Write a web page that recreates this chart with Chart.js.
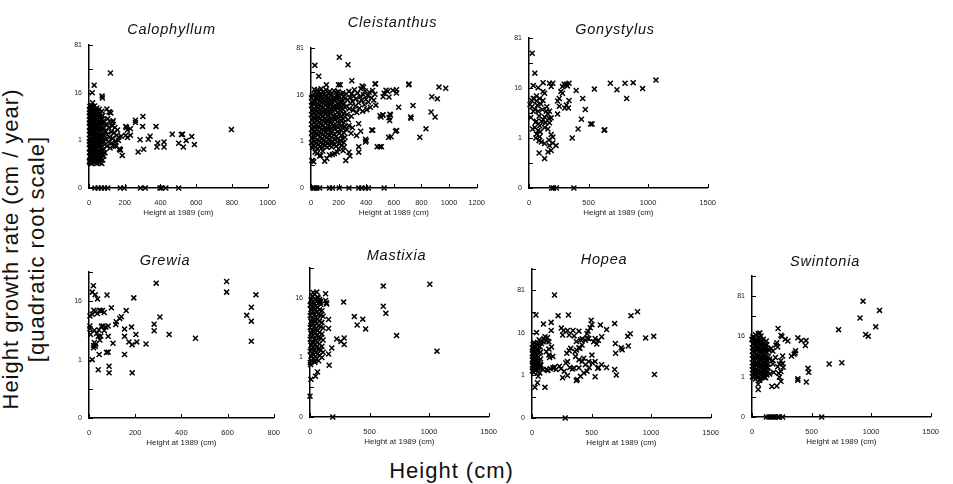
<!DOCTYPE html>
<html><head><meta charset="utf-8">
<script src="https://cdn.jsdelivr.net/npm/chart.js@4.4.1/dist/chart.umd.min.js"></script>
<style>
html,body{margin:0;padding:0;background:#fff;}
body{width:953px;height:484px;position:relative;overflow:hidden;font-family:"Liberation Sans",Arial,sans-serif;}
canvas{position:absolute;}
.ttl{position:absolute;font-style:italic;font-size:14.5px;line-height:14.5px;letter-spacing:0.8px;white-space:nowrap;transform:translateX(-50%);color:#111;}
#ylab{position:absolute;left:-176px;top:223px;width:400px;height:52px;font-size:22px;line-height:26px;letter-spacing:1px;text-align:center;transform:rotate(-90deg);white-space:nowrap;color:#111;}
#xlab{position:absolute;left:451.5px;top:460.3px;font-size:22px;line-height:22px;letter-spacing:1px;transform:translateX(-50%);white-space:nowrap;color:#111;}
</style></head><body>
<div id="ylab">Height growth rate (cm / year)<br>[quadratic root scale]</div>
<div id="xlab">Height (cm)</div>
<script>
// [height at 1989 (cm), height growth rate (cm/year)]
const calophyllum = [
[2,0.1],[2,0.3],[2,0.7],[2,1.2],[2,2.1],[2,3.5],[2,5.2],[2,7.4],
[5,0.08],[5,0.2],[5,0.5],[5,0.9],[5,1.6],[5,2.6],[5,4.1],[5,6.3],[5,8.6],
[8,0.12],[8,0.35],[8,0.6],[8,1.1],[8,1.9],[8,3.0],[8,4.6],[8,7.0],
[12,0.1],[12,0.25],[12,0.45],[12,0.8],[12,1.4],[12,2.3],[12,3.6],[12,5.5],[12,8.0],
[15,0.07],[15,0.18],[15,0.4],[15,0.75],[15,1.3],[15,2.0],[15,3.2],[15,5.0],[15,7.6],[15,9.0],
[19,0.15],[19,0.3],[19,0.55],[19,1.0],[19,1.7],[19,2.8],[19,4.4],[19,6.5],
[23,0.09],[23,0.22],[23,0.5],[23,0.85],[23,1.5],[23,2.4],[23,3.9],[23,5.8],[23,8.2],
[27,0.12],[27,0.3],[27,0.65],[27,1.15],[27,2.0],[27,3.3],[27,5.3],[27,7.2],
[31,0.08],[31,0.2],[31,0.42],[31,0.8],[31,1.35],[31,2.2],[31,3.6],[31,6.0],[31,8.8],
[35,0.14],[35,0.35],[35,0.7],[35,1.2],[35,1.9],[35,3.0],[35,4.8],[35,6.8],
[40,0.1],[40,0.25],[40,0.5],[40,0.95],[40,1.6],[40,2.6],[40,4.2],[40,7.0],
[44,0.07],[44,0.18],[44,0.45],[44,0.75],[44,1.3],[44,2.3],[44,3.4],[44,5.6],[44,8.0],
[48,0.12],[48,0.3],[48,0.6],[48,1.05],[48,1.8],[48,2.9],[48,4.5],[48,6.2],
[53,0.09],[53,0.2],[53,0.4],[53,0.85],[53,1.4],[53,2.5],[53,3.8],[53,5.5],
[57,0.14],[57,0.33],[57,0.65],[57,1.1],[57,1.9],[57,3.1],[57,4.9],[57,7.5],
[62,0.08],[62,0.22],[62,0.5],[62,0.9],[62,1.5],[62,2.4],[62,3.7],[62,6.0],
[67,0.15],[67,0.35],[67,0.7],[67,1.25],[67,2.1],[67,3.3],[67,5.1],
[72,0.07],[72,0.25],[72,0.55],[72,1.0],[72,1.6],[72,2.7],[72,4.3],[72,6.8],
[77,0.12],[77,0.4],[77,0.8],[77,1.35],[77,2.2],[77,3.5],[77,5.4],
[83,0.2],[83,0.45],[83,0.9],[83,1.5],[83,2.5],[83,4.0],
[90,0.3],[92,1.1],[95,2.0],[97,3.2],[100,0.6],[103,1.6],[105,4.5],[108,0.9],[110,2.6],[112,6.5],[115,1.3],[118,0.5],[120,3.6],[122,6.2],[125,1.9],[128,0.8],[130,2.9],[133,1.2],[135,4.0],[138,0.6],[140,1.8],[145,2.6],[148,0.9],[150,0.6],[155,1.5],[160,2.2],[165,1.0],[170,0.45],[175,0.4],[180,1.4],[186,0.22],
[120,34],[29,21.8],[18,16],[73,13.9],[75,12.8],[20,10.3],[100,7.6],[115,6.5],[133,3.7],[260,4.1],[302,5.1],[300,2.8],[375,2.8],[209,2.6],[215,2.2],[232,2.4],[466,1.63],[524,1.63],[575,1.36],[544,1.0],[502,0.78],[528,0.55],[590,0.69],[797,2.27],[342,1.4],[332,1.1],[286,1.05],[306,0.44],[275,0.33],[385,0.8],[420,0.88],[420,0.55],[380,0.55],[175,0.43],[150,0.6],[133,1.17],[167,1.3],[206,1.5],[215,1.26],[232,1.5],[206,2.8],[260,3.6],[517,1.6],
[33,0],[51,0],[69,0],[87,0],[105,0],[175,0],[197,0],[288,0],[315,0],[397,0],[406,0],[430,0],[502,0]
];
const cleistanthus = [
[3,0.9],[3,1.9],[3,3.5],[3,6.2],[3,9.8],[3,14],
[10,0.55],[10,1.3],[10,2.6],[10,4.6],[10,7.6],[10,11.2],[10,15.5],
[17,0.7],[17,1.6],[17,3.0],[17,5.2],[17,8.3],[17,12.6],
[24,1.0],[24,2.1],[24,3.9],[24,6.6],[24,10.4],[24,16.2],[24,20],
[31,0.6],[31,1.4],[31,2.8],[31,4.9],[31,7.9],[31,12],[31,17.5],
[38,0.85],[38,1.8],[38,3.3],[38,5.6],[38,9.2],[38,13.6],
[45,0.5],[45,1.15],[45,2.4],[45,4.3],[45,7.1],[45,10.9],[45,15.8],[45,19.5],
[52,0.75],[52,1.7],[52,3.1],[52,5.4],[52,8.7],[52,13],
[59,1.05],[59,2.2],[59,4.0],[59,6.8],[59,10.2],[59,14.8],[59,18.4],
[66,0.62],[66,1.45],[66,2.9],[66,5.0],[66,8.0],[66,12.2],[66,16.6],
[73,0.9],[73,1.9],[73,3.6],[73,6.1],[73,9.6],[73,14.1],[73,20.5],
[80,0.55],[80,1.25],[80,2.5],[80,4.5],[80,7.4],[80,11.5],[80,15.2],
[87,0.8],[87,1.75],[87,3.2],[87,5.7],[87,8.9],[87,13.3],[87,18],
[94,1.1],[94,2.3],[94,4.1],[94,7.0],[94,10.7],[94,16],
[101,0.68],[101,1.5],[101,2.7],[101,4.8],[101,7.7],[101,12.4],[101,17],
[108,0.95],[108,2.0],[108,3.7],[108,6.3],[108,9.9],[108,14.6],[108,19.8],
[115,0.58],[115,1.35],[115,2.6],[115,4.4],[115,7.2],[115,11],[115,15.4],
[122,0.85],[122,1.8],[122,3.4],[122,5.9],[122,9.3],[122,13.8],
[129,1.2],[129,2.5],[129,4.6],[129,7.8],[129,11.8],[129,17.2],
[136,0.7],[136,1.6],[136,3.0],[136,5.3],[136,8.5],[136,12.9],[136,18.6],
[143,0.9],[143,2.0],[143,3.8],[143,6.5],[143,10.1],[143,15],
[150,0.6],[150,1.4],[150,2.8],[150,4.9],[150,8.0],[150,12],[150,16.4],
[158,1.0],[158,2.2],[158,4.2],[158,7.2],[158,11.2],
[166,0.75],[166,1.7],[166,3.3],[166,5.8],[166,9.4],[166,14.2],[166,19],
[174,1.15],[174,2.6],[174,4.7],[174,8.1],[174,12.5],
[182,0.65],[182,1.5],[182,3.1],[182,5.5],[182,9.0],[182,13.6],[182,17.8],
[190,0.95],[190,2.1],[190,4.0],[190,6.9],[190,10.6],[190,15.6],
[198,1.3],[198,2.9],[198,5.1],[198,8.6],[198,12.8],[198,18.2],
[206,0.8],[206,1.9],[206,3.6],[206,6.2],[206,9.7],[206,14.4],
[214,1.1],[214,2.4],[214,4.4],[214,7.5],[214,11.4],[214,16.8],
[222,0.7],[222,1.6],[222,3.2],[222,5.6],[222,9.1],[222,13.2],
[230,1.25],[230,2.7],[230,4.9],[230,8.2],[230,12.3],[230,17.5],
[238,0.9],[238,2.0],[238,3.9],[238,6.6],[238,10.5],[238,15.2],
[246,1.4],[246,3.0],[246,5.4],[246,9.0],[246,13.5],
[255,16.5],[258,9.5],[262,6.2],[265,12.8],[270,4.6],[274,18.5],[278,8.4],[283,14.2],[287,10.8],[292,5.6],[296,16.8],[300,12.0],[305,7.8],[310,15.2],[315,19.8],[320,9.6],[326,13.5],[332,6.9],[338,17.2],[344,11.2],[350,8.6],[356,14.8],[362,20.5],[368,12.4],[374,7.4],[380,16.0],[386,10.2],[392,18.8],[398,13.0],[404,8.0],[410,15.6],[416,11.6],[422,17.8],[430,9.0],[438,14.0],[446,19.2],[455,12.6],[463,16.4],[470,10.0],
[260,2.4],[275,3.2],[290,1.9],[300,2.8],[330,1.6],[345,3.6],[360,2.2],[395,1.2],[400,1.05],
[205,62],[28,48],[268,49],[56,33],[296,28],[212,24],[111,24],[199,24],[468,25],[370,23],[380,22],[708,24],[927,22],[976,21],[875,14.7],[915,13.4],[619,19.8],[619,17.3],[530,17],[555,18.5],[543,19.4],[593,19.4],[522,14.7],[565,14.5],[635,9],[739,9.8],[572,6.3],[575,6.0],[522,6.0],[565,5.2],[722,5.4],[725,5.0],[870,7.1],[899,5.4],[833,2.6],[788,1.4],[612,2.2],[620,2.3],[580,1.46],[562,1.4],[447,2.35],[440,2.4],[500,5.8],[507,5.4],[520,6.0],[570,4.4],[710,24.8],[464,24.9],
[12,0.12],[6,0.12],[20,0.1],[63,0.22],[70,0.24],[99,0.11],[134,0.25],[155,0.27],[170,0.3],[190,0.35],[233,0.41],[115,0.16],[282,0.22],[252,0.12],[275,0.35],[346,0.62],[346,0.35],[395,0.95],[480,0.62],[500,0.62],[510,0.62],[45,0.3],[85,0.4],[200,0.5],[240,0.6],[30,0.35],
[14,0],[21,0],[28,0],[42,0],[63,0],[134,0],[155,0],[205,0],[275,0],[346,0],[367,0],[395,0],[416,0],[530,0]
];
const gonystylus = [
[27,53],[49,28],[36,17.7],[77,16.3],[118,19.8],[172,19.4],[200,19.4],[186,17],[118,13.9],[131,13],[36,10.3],[63,11.5],[268,13.9],[281,13],[295,18.7],[314,18.7],[281,17],[336,19.4],[322,17.5],[396,14.5],[254,10.3],[240,9.2],[300,6.6],[336,9.4],[314,7.6],[331,6.6],[254,7.2],[240,4.8],[451,10.3],[549,15.4],[683,19.4],[738,15],[806,19.4],[875,19.8],[820,10.3],[954,15.7],[1066,21.8],[473,6.1],[440,3.6],[412,1.94],[517,2.7],[530,2.7],[631,1.8],[636,1.85],[363,1.0],
[8,7.8],[22,9.4],[44,10.3],[63,9.2],[90,10.3],[118,9.4],[49,6.1],[77,5.6],[36,5.6],[112,6.1],[145,5.6],[172,5.6],[159,4.8],[85,4.3],[131,4.1],[167,3.8],[186,3.9],[63,3.2],[104,3.2],[139,2.9],[172,2.9],[90,2.4],[49,2.15],[30,1.94],[77,1.75],[131,2.15],[159,1.94],[63,1.36],[90,1.12],[57,1.0],[85,0.81],[104,0.72],[186,1.31],[167,0.85],[200,1.08],[131,0.63],[172,0.52],[200,0.66],[227,0.52],[186,0.32],[159,0.27],[85,0.24],[131,0.12],[15,4.0],[25,7.0],[70,7.5],[100,8.0],[55,3.0],[120,3.5],[150,7.0],[95,1.6],
[190,0],[205,0],[230,0],[377,0]
];
const grewia = [
[19,26.5],[14,21.7],[27,20],[37,17.4],[78,19.8],[194,18],[291,28.6],[596,30],[596,21.7],[723,19.9],[703,13],[683,9.6],[703,7.6],[703,3.0],[461,3.5],[347,4.2],[307,9],[282,6.7],[282,5],[247,2.6],[207,2.9],[203,4.2],[184,5.9],[161,11.5],[140,9.1],[133,8.5],[118,7.4],[116,6.6],[97,12.8],[104,2.7],[154,5.4],[154,3.84],[173,2.9],[187,2.5],[187,0.36],[154,1.4],[87,0.62],[87,0.36],[83,1.63],[76,1.6],[83,3.84],[83,6.2],[73,5.9],[61,6.2],[58,11.5],[66,10.7],[47,11.7],[51,11.3],[36,10.3],[21,11.7],[26,11.0],[14,10.0],[4,9.4],[4,6.2],[4,5.5],[7,4.2],[33,4.4],[23,5.1],[43,5.2],[54,6.1],[66,5.06],[51,3.9],[23,2.8],[20,2.4],[20,2.1],[27,2.3],[30,2.6],[14,1.0],[44,1.4],[40,0.47],[47,3.2],[40,3.84]
];
const mastixia = [
[2,0.7],[2,1.5],[2,2.9],[2,5.1],[2,8.4],[2,12.5],
[8,1.1],[8,2.1],[8,3.9],[8,6.6],[8,10.6],[8,15],
[14,0.8],[14,1.7],[14,3.3],[14,5.8],[14,9.3],[14,13.5],
[20,1.3],[20,2.5],[20,4.5],[20,7.5],[20,11.8],[20,17],
[26,0.95],[26,1.9],[26,3.6],[26,6.2],[26,10],[26,14.4],
[32,1.2],[32,2.4],[32,4.2],[32,7.0],[32,11.2],
[38,0.75],[38,1.6],[38,3.0],[38,5.4],[38,8.8],[38,13.2],[38,18],
[44,1.05],[44,2.2],[44,4.0],[44,6.9],[44,10.8],[44,15.6],
[50,1.4],[50,2.7],[50,4.8],[50,7.9],[50,12.2],
[57,0.9],[57,1.8],[57,3.5],[57,6.0],[57,9.6],[57,14.2],[57,19.5],
[64,1.25],[64,2.5],[64,4.4],[64,7.3],[64,11.5],[64,16.5],
[72,0.8],[72,1.7],[72,3.2],[72,5.6],[72,9.0],[72,13.6],
[80,1.15],[80,2.3],[80,4.1],[80,6.8],[80,10.5],[80,15.2],
[90,1.6],[90,3.1],[90,5.3],[90,8.6],[90,12.9],
[100,1.0],[100,2.0],[100,3.8],[100,6.4],[100,10.2],
[110,1.4],[110,2.8],[110,5.0],[110,8.2],
[1006,24.7],[615,23.4],[615,12],[637,9.2],[1066,1.5],[727,3.5],[467,4.8],[443,7.3],[396,5.7],[372,8.1],[282,13.9],[287,3.1],[287,2.2],[260,2.6],[224,2.94],[183,1.8],[156,1.26],[161,0.57],[156,4.9],[156,7.2],[131,14.7],[131,18.4],[137,13.6],[27,19.2],[68,16],[82,14.5],[87,13.9],[140,13],[63,0.33],[46,0.22],[8,0.16],[0,0.015],[5,0.6],[41,0.72],
[191,0]
];
const hopea = [
[3,1.5],[3,2.4],[3,3.5],[3,5.2],[3,7.4],
[9,1.8],[9,2.9],[9,4.4],[9,6.4],[9,8.9],
[15,1.3],[15,2.1],[15,3.2],[15,4.8],[15,7.0],[15,10],
[21,1.7],[21,2.6],[21,3.9],[21,5.8],[21,8.2],
[28,2.2],[28,3.4],[28,5.1],[28,7.6],
[35,1.6],[35,2.5],[35,3.8],[35,6.0],[35,9.0],
[43,2.0],[43,3.0],[43,4.6],[43,6.8],
[52,1.4],[52,2.7],[52,4.2],[52,6.3],[52,9.6],
[62,1.9],[62,3.3],[62,5.4],[62,8.0],
[72,2.3],[72,3.7],[72,5.8],[72,10.5],
[189,70],[33,34.4],[219,33.6],[306,34.4],[96,23.8],[161,25.6],[161,18],[38,16.3],[246,20],[265,18],[298,18],[344,18],[394,17.4],[257,14.5],[312,14.5],[353,13.9],[497,28],[503,23.4],[489,20.2],[470,17.4],[462,15.4],[574,23],[626,18.7],[694,24.3],[831,33.6],[886,39],[825,15.4],[804,13.6],[954,12.6],[1022,13.6],[1028,1.1],[700,9.4],[702,5.4],[809,8.2],[749,7.4],[757,6.6],[694,1.7],[708,1.05],[626,2.0],[552,1.87],[530,0.89],[503,4.8],[585,13.3],[558,11.2],[544,9.2],[517,10.3],[530,12.2],[448,11.2],[462,12.2],[476,12.2],[421,8.7],[402,7.2],[394,7.4],[372,10.5],[407,11.4],[421,12],
[93,10.3],[79,9.4],[66,8.0],[120,10.7],[142,10.3],[164,7.8],[142,6.9],[120,5.9],[142,4.8],[148,4.1],[175,4.4],[202,1.7],[189,2.05],[175,1.94],[153,1.8],[134,1.57],[120,1.7],[93,1.7],[74,2.44],[60,2.2],[66,1.26],[52,0.93],[46,0.47],[25,0.27],[109,0.27],[243,1.8],[230,2.2],[271,1.46],[257,0.81],[298,1.0],[284,2.8],[298,3.1],[317,2.0],[353,1.9],[325,7.2],[312,6.3],[292,5.4],[361,5.9],[374,6.55],[366,4.4],[394,1.94],[339,1.75],[372,0.6],[380,0.68],[407,0.92],
[394,3.5],[421,3.1],[435,3.9],[448,2.45],[476,3.1],[462,1.46],[435,1.26],[481,2.0],[508,2.8],[558,2.0],[585,2.45],[530,3.1],[60,11.5],[100,12],[130,12.8],[110,13.3],
[279,0]
];
const swintonia = [
[3,1.0],[3,1.9],[3,3.3],[3,5.6],[3,8.8],[3,13.5],
[9,1.4],[9,2.5],[9,4.3],[9,7.1],[9,11],[9,16],
[15,0.9],[15,1.7],[15,3.0],[15,5.0],[15,8.0],[15,12.2],
[22,1.2],[22,2.2],[22,3.8],[22,6.4],[22,10],[22,14.8],
[29,0.8],[29,1.5],[29,2.8],[29,4.7],[29,7.6],[29,11.6],[29,17.5],
[36,1.1],[36,2.0],[36,3.5],[36,6.0],[36,9.4],[36,14],
[44,1.6],[44,2.9],[44,4.9],[44,8.2],[44,12.8],
[52,0.95],[52,1.8],[52,3.2],[52,5.4],[52,8.6],[52,13],[52,18.5],
[60,1.3],[60,2.4],[60,4.1],[60,6.8],[60,10.6],[60,15.5],
[68,0.85],[68,1.6],[68,3.0],[68,5.2],[68,8.4],[68,12.4],
[76,1.2],[76,2.2],[76,3.9],[76,6.5],[76,10.2],[76,16.5],
[85,1.5],[85,2.7],[85,4.6],[85,7.6],[85,11.8],
[95,1.0],[95,1.9],[95,3.4],[95,5.8],[95,9.2],[95,14],
[105,1.35],[105,2.6],[105,4.4],[105,7.3],[105,11.2],
[115,0.9],[115,1.7],[115,3.1],[115,5.3],[115,8.6],
[125,1.2],[125,2.3],[125,4.0],[125,6.8],[125,10.5],
[135,1.6],[135,3.0],[135,5.0],[135,8.2],
[148,1.31],[107,0.92],[66,0.69],[52,0.22],[52,0.44],[161,8.5],[175,7.2],[142,7.6],[120,12.7],[66,19],[11,15.4],[0,13.9],[38,12.7],[208,11.6],[202,10.2],[216,9.2],[219,23.4],[243,17],[251,16],[279,13.9],[301,12.7],[257,5.3],[243,3.84],[257,3.1],[262,2.35],[243,1.63],[224,1.41],[230,3.0],[216,2.44],[230,0.96],[243,0.62],[208,0.35],[167,0.33],[182,1.52],[175,3.0],[197,4.8],[175,3.84],[148,4.3],[134,2.35],[366,7.4],[361,6.4],[353,5.9],[331,5.3],[385,15],[413,13],[454,13],[448,10],[385,0.81],[385,0.69],[456,0.57],[470,2.14],[476,1.52],[648,3.0],[754,3.3],[727,22.2],[932,68.8],[1071,49.3],[907,36.6],[1039,25.2],[954,17.7],[976,16.3],
[120,0],[142,0],[161,0],[175,0],[189,0],[216,0],[230,0],[257,0],[585,0]
];

const speciesNames = ['Calophyllum','Cleistanthus','Gonystylus','Grewia','Mastixia','Hopea','Swintonia'];
const speciesSeries = [calophyllum, cleistanthus, gonystylus, grewia, mastixia, hopea, swintonia];
const xMaxes = [1000, 1200, 1500, 800, 1500, 1500, 1500];
const xSteps = [200, 200, 500, 200, 500, 500, 500];
const yMaxRoots = [3, 3, 3, 2.5, 2.5, 3.5, 3.5];
const xAxisTitle = 'Height at 1989 (cm)';

// layout (page px): plot area left/right/top/bottom, title centre x and baseline
const boxes = [
 {L:89, R:272, T:42, B:188, tx:171.5, tb:34},
 {L:311, R:481, T:45, B:188, tx:392.5, tb:27.3},
 {L:529, R:712, T:35, B:188, tx:615, tb:34},
 {L:89, R:276, T:269, B:418, tx:165, tb:265},
 {L:310, R:493, T:265, B:417, tx:396.5, tb:260.7},
 {L:532, R:715, T:266, B:418, tx:604, tb:264},
 {L:752, R:935, T:273, B:417, tx:825, tb:266}
];

const FONT = "'Liberation Sans', Arial, sans-serif";

const insideTicks = {
  id: 'insideTicks',
  afterDraw(chart) {
    const {ctx, chartArea: a, scales: {x, y}} = chart;
    ctx.save();
    ctx.strokeStyle = '#000';
    ctx.lineWidth = 1;
    y.ticks.forEach(t => {
      const py = Math.round(y.getPixelForValue(t.value)) + 0.5;
      ctx.beginPath(); ctx.moveTo(a.left, py); ctx.lineTo(a.left + 4, py); ctx.stroke();
    });
    x.ticks.forEach(t => {
      const px = Math.round(x.getPixelForValue(t.value)) + 0.5;
      ctx.beginPath(); ctx.moveTo(px, a.bottom); ctx.lineTo(px, a.bottom - 4); ctx.stroke();
    });
    ctx.restore();
  }
};

speciesNames.forEach((name, i) => {
  const b = boxes[i];
  const w = b.R - b.L + 44, h = b.B - b.T + 40;
  const cv = document.createElement('canvas');
  cv.width = w; cv.height = h;
  cv.style.left = (b.L - 30) + 'px';
  cv.style.top = (b.T - 8) + 'px';
  cv.style.width = w + 'px'; cv.style.height = h + 'px';
  document.body.appendChild(cv);

  const t = document.createElement('div');
  t.className = 'ttl';
  t.textContent = name;
  t.style.left = b.tx + 'px';
  t.style.top = (b.tb - 12.3) + 'px';
  document.body.appendChild(t);

  new Chart(cv, {
    type: 'scatter',
    data: {
      datasets: [{
        label: name,
        data: speciesSeries[i].map(d => ({x: d[0], y: Math.pow(d[1], 0.25)})),
        pointStyle: 'crossRot',
        radius: 3.5,
        borderWidth: 1.5,
        borderColor: '#000',
        backgroundColor: '#000',
        clip: false
      }]
    },
    options: {
      responsive: false,
      animation: false,
      devicePixelRatio: 1,
      layout: {padding: {left: 0, top: 8, right: 14, bottom: 0}},
      plugins: {legend: {display: false}, tooltip: {enabled: false}},
      scales: {
        x: {
          type: 'linear', min: 0, max: xMaxes[i],
          grid: {display: false, drawTicks: false},
          border: {display: true, color: '#000', width: 1.5},
          ticks: {stepSize: xSteps[i], autoSkip: false, maxRotation: 0, padding: 10, color: '#222',
                  font: {size: 7.5, family: FONT}, callback: v => String(v)},
          title: {display: true, text: xAxisTitle, color: '#222', font: {size: 8, family: FONT}, padding: {top: 0, bottom: 2}},
          afterFit: s => { s.height = 32; }
        },
        y: {
          type: 'linear', min: 0, max: yMaxRoots[i],
          grid: {display: false, drawTicks: false},
          border: {display: true, color: '#000', width: 1.5},
          ticks: {stepSize: 0.5, autoSkip: false, padding: 7, color: '#222',
                  font: {size: 7, family: FONT},
                  callback: v => Number.isInteger(v) ? String(Math.pow(v, 4)) : ''},
          afterFit: s => { s.width = 30; }
        }
      }
    },
    plugins: [insideTicks]
  });
});
</script>
</body></html>
